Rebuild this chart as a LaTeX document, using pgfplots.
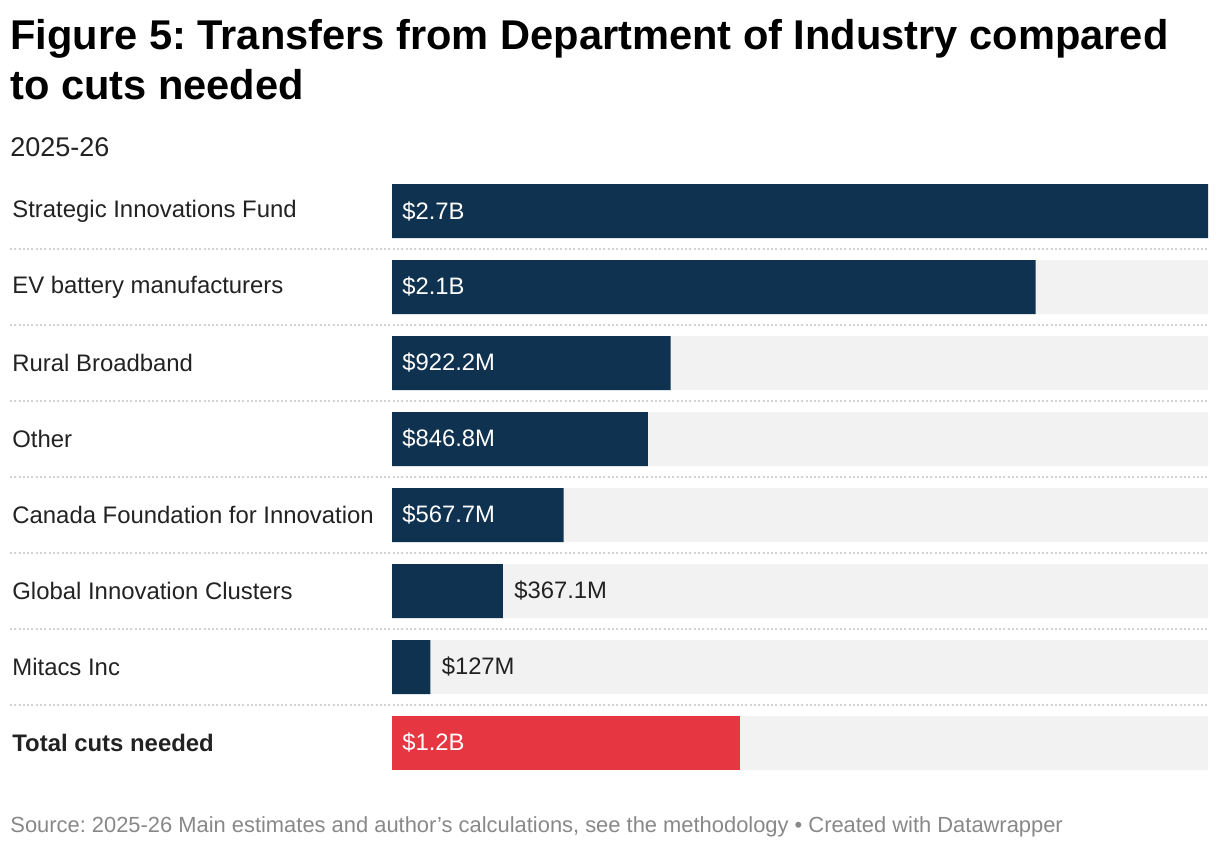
\documentclass[border=0pt]{standalone}
\usepackage{fontspec}
\setmainfont{Liberation Sans}
\usepackage{pgfplots}
\pgfplotsset{compat=1.18}
\frenchspacing
\definecolor{navy}{HTML}{0F3250}
\definecolor{cutred}{HTML}{E63641}
\definecolor{bggray}{HTML}{F2F2F2}
\definecolor{sepgray}{HTML}{D2D2D2}
\definecolor{txt}{HTML}{222222}
\definecolor{srcgray}{HTML}{888888}
\newcommand{\lblfont}{\fontsize{11.9}{14}\selectfont}
\begin{document}
\begin{tikzpicture}
	\useasboundingbox (0,0) rectangle (610pt,423pt);
	% title, subtitle, source
	\node[anchor=base west, inner sep=0pt] at (5pt,398pt) {\fontsize{20.8}{25}\selectfont\bfseries Figure 5: Transfers from Department of Industry compared};
	\node[anchor=base west, inner sep=0pt] at (5pt,373pt) {\fontsize{20.8}{25}\selectfont\bfseries to cuts needed};
	\node[anchor=base west, inner sep=0pt, text=txt] at (5pt,344.5pt) {\fontsize{13.5}{16}\selectfont 2025-26};
	\node[anchor=base west, inner sep=0pt, text=srcgray] at (5pt,7pt) {\fontsize{10.95}{13}\selectfont Source: 2025-26 Main estimates and author’s calculations, see the methodology • Created with Datawrapper};
	\begin{axis}[
		at={(5pt,32.5pt)}, anchor=south west,
		width=599pt, height=304pt, scale only axis,
		xmin=-1.264, xmax=2.7, ymin=-0.5, ymax=7.5,
		y dir=reverse, clip=false,
		hide x axis,
		axis line style={draw=none},
		major tick style={draw=none},
		ytick={0,...,7},
		yticklabels={Strategic Innovations Fund, EV battery manufacturers, Rural Broadband, Other, Canada Foundation for Innovation, Global Innovation Clusters, Mitacs Inc, \textbf{Total cuts needed}},
		yticklabel style={anchor=west, inner sep=0pt, xshift=1pt, text=txt, font=\fontsize{11.95}{14}\selectfont},
	]
		% row separators
		\pgfplotsinvokeforeach{0.5,1.5,2.5,3.5,4.5,5.5,6.5}{
			\addplot[sepgray, line width=1pt, dash pattern=on 1pt off 1.15pt] coordinates {(-1.264,#1) (2.7,#1)};
		}
		% background bars
		\addplot[xbar, bar width=27pt, bar shift=0pt, fill=bggray, draw=none] coordinates {
			(2.7,0) (2.7,1) (2.7,2) (2.7,3) (2.7,4) (2.7,5) (2.7,6) (2.7,7)
		};
		% transfers
		\addplot[xbar, bar width=27pt, bar shift=0pt, fill=navy, draw=none] coordinates {
			(2.7,0) (2.13,1) (0.9222,2) (0.8468,3) (0.5677,4) (0.3671,5) (0.127,6)
		};
		% cuts needed
		\addplot[xbar, bar width=27pt, bar shift=0pt, fill=cutred, draw=none] coordinates {
			(1.15,7)
		};
		% labels inside bars
		\addplot[draw=none, nodes near coords, point meta=explicit symbolic,
			nodes near coords align=horizontal,
			every node near coord/.append style={anchor=west, inner sep=0pt, xshift=5pt, text=white, font=\lblfont}]
			coordinates {(0,0) [\$2.7B] (0,1) [\$2.1B] (0,2) [\$922.2M] (0,3) [\$846.8M] (0,4) [\$567.7M] (0,7) [\$1.2B]};
		% labels after short bars
		\addplot[draw=none, nodes near coords, point meta=explicit symbolic,
			nodes near coords align=horizontal,
			every node near coord/.append style={anchor=west, inner sep=0pt, xshift=5.5pt, text=txt, font=\lblfont}]
			coordinates {(0.3671,5) [\$367.1M] (0.127,6) [\$127M]};
	\end{axis}
\end{tikzpicture}
\end{document}
